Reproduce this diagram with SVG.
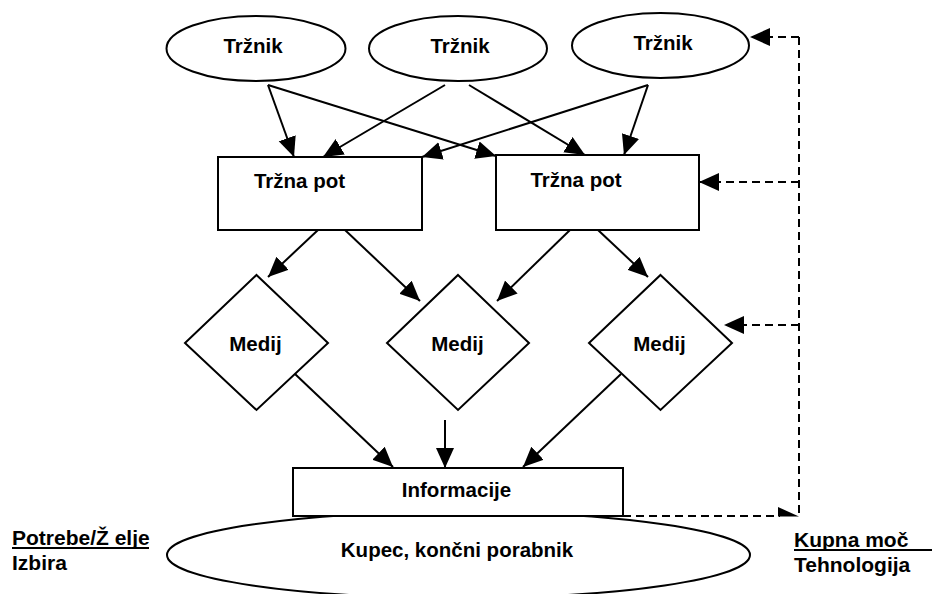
<svg xmlns="http://www.w3.org/2000/svg" width="932" height="594" viewBox="0 0 932 594">
<style>
.shape{fill:#fff;stroke:#000;stroke-width:2}
.t{font-family:"Liberation Sans",Arial,sans-serif;font-weight:bold;font-size:20.5px;fill:#000;text-anchor:middle}
.l{font-family:"Liberation Sans",Arial,sans-serif;font-weight:bold;font-size:21px;fill:#000}
.c{fill:none;stroke:#000;stroke-width:2}
.d{fill:none;stroke:#000;stroke-width:2;stroke-dasharray:8 5}
</style>
<defs>
<marker id="ah" markerUnits="userSpaceOnUse" markerWidth="22" markerHeight="20" refX="20" refY="9" orient="auto">
<path d="M0,0 L20,9 L0,18 z" fill="#000"/>
</marker>
</defs>
<rect width="932" height="594" fill="#fff"/>
<g id="kupec">
<ellipse class="shape" cx="458.5" cy="555" rx="291.5" ry="43"/>
<text class="t" x="457" y="557">Kupec, končni porabnik</text>
</g>
<g id="trznik1">
<ellipse class="shape" cx="256" cy="48.5" rx="89.5" ry="32.5"/>
<text class="t" x="253" y="53">Tržnik</text>
</g>
<g id="trznik2">
<ellipse class="shape" cx="458" cy="48.5" rx="89" ry="32.5"/>
<text class="t" x="460" y="53">Tržnik</text>
</g>
<g id="trznik3">
<ellipse class="shape" cx="660.5" cy="45.5" rx="88.5" ry="32.5"/>
<text class="t" x="663" y="50">Tržnik</text>
</g>
<g id="pot1">
<rect class="shape" x="218" y="157" width="204" height="73"/>
<text class="t" x="299.5" y="188">Tržna pot</text>
</g>
<g id="pot2">
<rect class="shape" x="496" y="155" width="203" height="75"/>
<text class="t" x="576" y="187">Tržna pot</text>
</g>
<g id="medij1">
<polygon class="shape" points="256.5,275 328,343 256.5,410 185,343"/>
<text class="t" x="255.5" y="351">Medij</text>
</g>
<g id="medij2">
<polygon class="shape" points="458,275 529,343 458,410 387,343"/>
<text class="t" x="457.5" y="351">Medij</text>
</g>
<g id="medij3">
<polygon class="shape" points="660.5,275 732,343 660.5,410 589,343"/>
<text class="t" x="659.5" y="351">Medij</text>
</g>
<g id="informacije">
<rect class="shape" x="293" y="468" width="330" height="48"/>
<text class="t" x="456.5" y="497">Informacije</text>
</g>
<g id="potrebe">
<text class="l" x="12" y="545">Potrebe/Ž elje</text>
<line x1="12" y1="548" x2="149" y2="548" stroke="#000" stroke-width="2"/>
<text class="l" x="12" y="570">Izbira</text>
</g>
<g id="kupna">
<text class="l" x="794" y="547">Kupna moč</text>
<line x1="794" y1="550" x2="932" y2="550" stroke="#000" stroke-width="2"/>
<text class="l" x="794" y="572">Tehnologija</text>
</g>
<g id="connectors">
<line class="c" x1="268" y1="85" x2="294" y2="157" marker-end="url(#ah)"/>
<line class="c" x1="268" y1="85" x2="496" y2="156" marker-end="url(#ah)"/>
<line class="c" x1="445" y1="85" x2="323" y2="157" marker-end="url(#ah)"/>
<line class="c" x1="469" y1="85" x2="585" y2="155" marker-end="url(#ah)"/>
<line class="c" x1="648" y1="85" x2="422" y2="157" marker-end="url(#ah)"/>
<line class="c" x1="648" y1="85" x2="624" y2="155" marker-end="url(#ah)"/>
<line class="c" x1="318" y1="230" x2="268" y2="277" marker-end="url(#ah)"/>
<line class="c" x1="345" y1="230" x2="420" y2="301" marker-end="url(#ah)"/>
<line class="c" x1="570" y1="230" x2="497" y2="301" marker-end="url(#ah)"/>
<line class="c" x1="598" y1="230" x2="648" y2="277" marker-end="url(#ah)"/>
<line class="c" x1="295" y1="374" x2="393" y2="467" marker-end="url(#ah)"/>
<line class="c" x1="445" y1="420" x2="445" y2="468" marker-end="url(#ah)"/>
<line class="c" x1="621" y1="374" x2="523" y2="467" marker-end="url(#ah)"/>
<path class="d" d="M799,37 V517"/>
<line class="d" x1="799" y1="37" x2="750" y2="37" marker-end="url(#ah)"/>
<line class="d" x1="799" y1="182" x2="699" y2="182" marker-end="url(#ah)"/>
<line class="d" x1="799" y1="325" x2="724" y2="325" marker-end="url(#ah)"/>
<line class="d" x1="623" y1="516" x2="780" y2="516"/>
<polygon points="778,507 799,516.5 778,516.5" fill="#000"/>
</g>
</svg>
